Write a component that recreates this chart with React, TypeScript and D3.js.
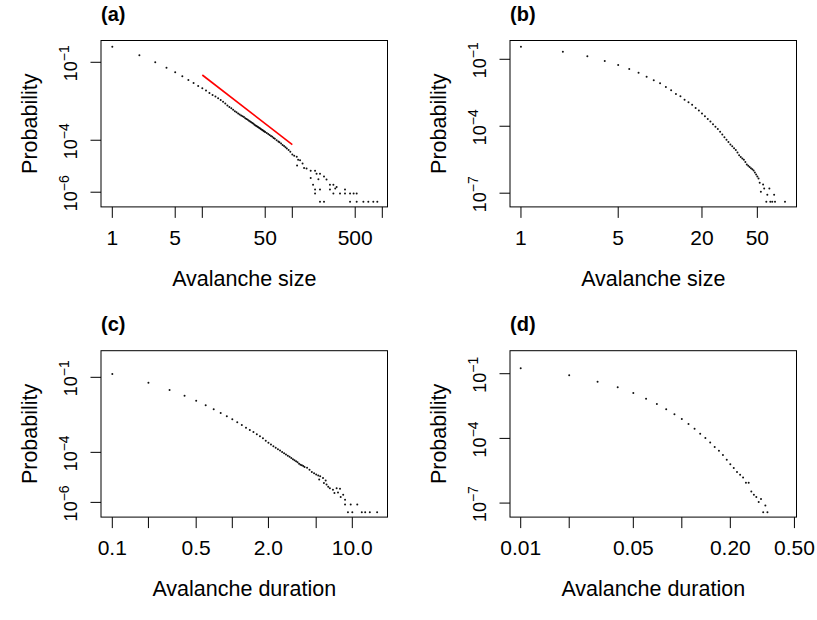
import React from "react";
import * as d3 from "d3";

// values; probabilities kept as log10 (the plot is log-log)

// (a) avalanche size
const sizeA = [
  1, 2, 3, 4, 5, 6, 7, 8, 9, 10, 11, 12, 13, 14, 15, 16, 17, 18, 19, 20,
  21, 22, 23, 24, 25, 26, 27, 28, 29, 30, 31, 32, 33, 34, 35, 36, 37, 38, 39, 40,
  41, 42, 43, 44, 45, 46, 47, 48, 49, 50, 52, 54, 56, 58, 60, 62, 64, 67, 70, 72,
  75, 78, 81, 84, 87, 91, 95, 100, 105, 112, 116, 122, 113, 130, 135, 144, 160, 179, 186, 160,
  170, 203, 225, 240, 262, 286, 311, 195, 179, 203, 262, 300, 385, 179, 286, 339, 385, 438, 480, 519,
  203, 225, 438, 519, 616, 699, 794, 880,
];
const logProbA = [
  -0.4, -0.73, -1.0, -1.21, -1.385, -1.54, -1.68, -1.8, -1.91, -2.0, -2.09, -2.18, -2.26, -2.32, -2.38, -2.45, -2.52, -2.59, -2.66, -2.72,
  -2.77, -2.83, -2.88, -2.92, -2.97, -3.01, -3.05, -3.08, -3.11, -3.15, -3.18, -3.21, -3.25, -3.28, -3.31, -3.34, -3.37, -3.4, -3.43, -3.45,
  -3.48, -3.5, -3.53, -3.55, -3.58, -3.6, -3.62, -3.64, -3.66, -3.68, -3.72, -3.76, -3.8, -3.84, -3.87, -3.91, -3.94, -4.0, -4.05, -4.08,
  -4.13, -4.18, -4.22, -4.27, -4.32, -4.38, -4.44, -4.55, -4.6, -4.64, -4.75, -4.77, -4.97, -4.9, -5.07, -5.09, -5.17, -5.17, -5.29, -5.45,
  -5.71, -5.29, -5.4, -5.51, -5.71, -5.71, -5.8, -5.5, -5.9, -5.9, -5.9, -5.86, -5.9, -6.05, -6.05, -6.05, -6.05, -6.05, -6.05, -6.05,
  -6.37, -6.37, -6.37, -6.37, -6.37, -6.37, -6.37, -6.37,
];
// red reference line in (a)
const fitSizeA = [10, 100];
const fitProbA = [3.24e-2, 6.8e-5];

// (b) avalanche size
const sizeB = [
  1, 2, 3, 4, 5, 6, 7, 8, 9, 10, 11, 12, 13, 14, 15, 16, 17, 18, 19, 20,
  21, 22, 23, 24, 25, 26, 27, 28, 29, 30, 31, 32, 33, 34, 35, 36, 37, 38, 39, 40,
  41, 42, 43, 44, 45, 46, 47, 48, 49, 50, 51, 52, 53, 55, 56, 58, 59, 61, 62, 64,
  66, 67, 79,
];
const logProbB = [
  -0.436, -0.66, -0.866, -1.076, -1.255, -1.434, -1.6, -1.78, -1.94, -2.07, -2.24, -2.39, -2.55, -2.66, -2.81, -2.92, -3.04, -3.18, -3.3, -3.43,
  -3.55, -3.67, -3.79, -3.91, -4.02, -4.12, -4.25, -4.37, -4.49, -4.6, -4.71, -4.82, -4.9, -4.99, -5.06, -5.18, -5.3, -5.38, -5.44, -5.5,
  -5.6, -5.71, -5.77, -5.83, -5.88, -5.93, -5.98, -6.07, -6.16, -6.25, -6.34, -6.53, -6.94, -6.61, -6.79, -7.38, -7.07, -6.79, -7.38, -7.38,
  -7.07, -7.38, -7.38,
];

// (c) avalanche duration
const durC = [
  0.1, 0.2, 0.3, 0.4, 0.5, 0.6, 0.7, 0.8, 0.9, 1.0, 1.1, 1.2, 1.3, 1.4, 1.5, 1.6, 1.7, 1.8, 1.9, 2.0,
  2.1, 2.2, 2.3, 2.4, 2.5, 2.6, 2.7, 2.8, 2.9, 3.0, 3.1, 3.2, 3.3, 3.4, 3.5, 3.6, 3.7, 3.8, 3.9, 4.0,
  4.2, 4.4, 4.6, 4.8, 5.0, 5.2, 5.4, 5.3, 5.7, 5.8, 6.1, 6.0, 6.5, 6.9, 6.3, 7.4, 7.9, 7.6, 8.4, 7.1,
  8.7, 8.0, 8.7, 9.7, 11.0, 9.2, 10.0, 12.0, 12.8, 14.0, 16.1,
];
const logProbC = [
  -0.868, -1.216, -1.508, -1.736, -1.936, -2.12, -2.28, -2.43, -2.56, -2.68, -2.8, -2.91, -3.02, -3.11, -3.19, -3.28, -3.36, -3.44, -3.54, -3.62,
  -3.69, -3.76, -3.82, -3.88, -3.93, -3.99, -4.04, -4.09, -4.14, -4.18, -4.23, -4.28, -4.32, -4.36, -4.4, -4.46, -4.5, -4.52, -4.55, -4.59,
  -4.62, -4.7, -4.79, -4.84, -4.89, -4.93, -4.96, -5.09, -5.03, -5.23, -5.29, -5.13, -5.43, -5.49, -5.38, -5.43, -5.45, -5.6, -5.69, -5.62,
  -5.89, -5.78, -6.08, -6.08, -6.08, -6.39, -6.39, -6.39, -6.39, -6.39, -6.39,
];

// (d) avalanche duration
const durD = [
  0.01, 0.02, 0.03, 0.04, 0.05, 0.06, 0.07, 0.08, 0.09, 0.1, 0.11, 0.12, 0.13, 0.14, 0.15, 0.16, 0.17,
  0.18, 0.19, 0.2, 0.21, 0.22, 0.23, 0.24, 0.25, 0.26, 0.27, 0.28, 0.29, 0.3, 0.31, 0.33, 0.32, 0.34,
];
const logProbD = [
  -0.751, -1.076, -1.37, -1.633, -1.896, -2.159, -2.406, -2.653, -2.885, -3.102, -3.334, -3.55, -3.78, -3.98, -4.185, -4.4, -4.57,
  -4.77, -4.99, -5.2, -5.376, -5.56, -5.685, -5.81, -6.06, -6.06, -6.46, -6.61, -6.72, -6.95, -6.81, -7.11, -7.42, -7.42,
];

// axis ticks (blank label = tick mark only, as R drops overlapping labels)
const xTicksA = [1, 5, 10, 50, 100, 500, 1000];
const xLabelsA = ["1", "5", "", "50", "", "500", ""];
const xTicksB = [1, 5, 20, 50];
const xLabelsB = ["1", "5", "20", "50"];
const xTicksC = [0.1, 0.2, 0.5, 1, 2, 5, 10];
const xLabelsC = ["0.1", "", "0.5", "", "2.0", "", "10.0"];
const xTicksD = [0.01, 0.02, 0.05, 0.1, 0.2, 0.5];
const xLabelsD = ["0.01", "", "0.05", "", "0.20", "0.50"];
const yExpA = [-1, -4, -6];
const yExpB = [-1, -4, -7];
const yExpC = [-1, -4, -6];
const yExpD = [-1, -4, -7];

const FONT = "'Liberation Sans', Arial, Helvetica, sans-serif";
const W = 286.5;
const H = 166.4;

type PanelProps = {
  letter: string;
  left: number;
  top: number;
  xs: number[];
  logPs: number[];
  xDomain: [number, number];
  yDomain: [number, number];
  xTicks: number[];
  xLabels: string[];
  yExps: number[];
  xTitle: string;
  fitX?: number[];
  fitY?: number[];
};

function Panel(p: PanelProps) {
  const { left, top } = p;
  const x = d3.scaleLog().domain(p.xDomain).range([left, left + W]);
  const y = d3.scaleLog().domain(p.yDomain).range([top + H, top]);
  const bottom = top + H;

  const fitPath =
    p.fitX && p.fitY
      ? d3
          .line<number>()
          .x((d) => x(d))
          .y((_, i) => y(p.fitY![i]))(p.fitX)
      : null;

  return (
    <g fontFamily={FONT} fill="#000">
      <text x={left} y={top - 19.5} fontSize={20} fontWeight="bold">
        {p.letter}
      </text>

      {p.xs.map((v, i) => (
        <circle key={i} cx={x(v)} cy={y(Math.pow(10, p.logPs[i]))} r={1} fill="#111" />
      ))}

      {fitPath && <path d={fitPath} fill="none" stroke="#ff0000" strokeWidth={1.6} />}

      <rect x={left} y={top} width={W} height={H} fill="none" stroke="#000" strokeWidth={1} />

      {p.xTicks.map((t, i) => (
        <g key={"x" + i}>
          <line x1={x(t)} x2={x(t)} y1={bottom} y2={bottom + 11} stroke="#000" />
          {p.xLabels[i] && (
            <text x={x(t)} y={bottom + 38} fontSize={21} textAnchor="middle">
              {p.xLabels[i]}
            </text>
          )}
        </g>
      ))}

      {p.yExps.map((e, i) => {
        const py = y(Math.pow(10, e));
        return (
          <g key={"y" + i}>
            <line x1={left - 10.5} x2={left} y1={py} y2={py} stroke="#000" />
            <text
              transform={`translate(${left - 24.3},${py + 1}) rotate(-90)`}
              fontSize={18}
              textAnchor="middle"
            >
              10
              <tspan fontSize={14} dy={-7.5}>
                {"\u2212" + Math.abs(e)}
              </tspan>
            </text>
          </g>
        );
      })}

      <text x={left + W / 2} y={bottom + 79} fontSize={21.5} textAnchor="middle">
        {p.xTitle}
      </text>
      <text
        transform={`translate(${left - 64.3},${top + H / 2}) rotate(-90)`}
        fontSize={21.5}
        textAnchor="middle"
      >
        Probability
      </text>
    </g>
  );
}

export default function App() {
  return (
    <svg
      width={817}
      height={620}
      style={{ position: "absolute", left: 0, top: 0, background: "#fff" }}
    >
      <rect width={817} height={620} fill="#fff" />
      <Panel
        letter="(a)"
        left={101}
        top={40.5}
        xs={sizeA}
        logPs={logProbA}
        xDomain={[0.749, 1142]}
        yDomain={[2.72e-7, 0.689]}
        xTicks={xTicksA}
        xLabels={xLabelsA}
        yExps={yExpA}
        xTitle="Avalanche size"
        fitX={fitSizeA}
        fitY={fitProbA}
      />
      <Panel
        letter="(b)"
        left={510}
        top={40.5}
        xs={sizeB}
        logPs={logProbB}
        xDomain={[0.834, 95.6]}
        yDomain={[2.43e-8, 0.695]}
        xTicks={xTicksB}
        xLabels={xLabelsB}
        yExps={yExpB}
        xTitle="Avalanche size"
      />
      <Panel
        letter="(c)"
        left={101}
        top={350.7}
        xs={durC}
        logPs={logProbC}
        xDomain={[0.0805, 19.65]}
        yDomain={[2.58e-7, 1.159]}
        xTicks={xTicksC}
        xLabels={xLabelsC}
        yExps={yExpC}
        xTitle="Avalanche duration"
      />
      <Panel
        letter="(d)"
        left={510}
        top={350.7}
        xs={durD}
        logPs={logProbD}
        xDomain={[0.00858, 0.515]}
        yDomain={[2.24e-8, 1.167]}
        xTicks={xTicksD}
        xLabels={xLabelsD}
        yExps={yExpD}
        xTitle="Avalanche duration"
      />
    </svg>
  );
}
